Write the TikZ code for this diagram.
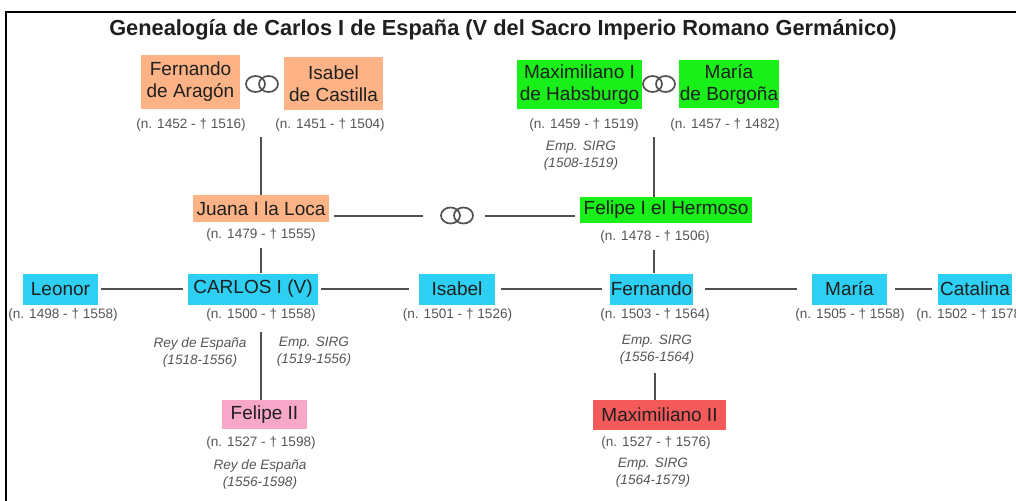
\documentclass[tikz,border=0pt]{standalone}
\usepackage{fontspec}
\setmainfont{Liberation Sans}
\definecolor{peachc}{HTML}{FDB386}
\definecolor{greenc}{HTML}{19F019}
\definecolor{bluec}{HTML}{2DCFF3}
\definecolor{pinkc}{HTML}{F7A8C8}
\definecolor{redc}{HTML}{F45A5A}
\definecolor{linec}{HTML}{505050}
\definecolor{datec}{HTML}{555555}
\tikzset{
  person/.style={rectangle, inner sep=0pt, text=black!88, font=\fontsize{19}{22}\selectfont, align=center},
  peach/.style={person, fill=peachc},
  green/.style={person, fill=greenc},
  blue/.style={person, fill=bluec},
  pink/.style={person, fill=pinkc},
  red/.style={person, fill=redc},
  dates/.style={text=datec, font=\fontsize{13.6}{16}\selectfont, inner sep=0pt},
  reign/.style={text=datec, font=\fontsize{13.6}{17}\selectfont\itshape, align=center, inner sep=0pt},
  link/.style={draw=linec, line width=2pt},
  ringbox/.style={inner sep=0pt, minimum width=33pt, minimum height=16pt},
  ringline/.style={draw=linec, line width=1.7pt},
}
\begin{document}
\begin{tikzpicture}[x=1pt, y=-1pt]
\useasboundingbox (0,0) rectangle (1016,500);
\clip (0,0) rectangle (1016,500);
\draw[line width=2.5pt] (6.2,12.2) rectangle (1100,600);

\node (title) at (503,30) {\fontsize{21.8}{24}\selectfont\bfseries\color{black!88}Genealogía de Carlos I de España (V del Sacro Imperio Romano Germánico)};

% Generation 1
\node[peach, minimum width=99pt, minimum height=54pt] (fA) at (190.5,82) {Fernando\\de Aragón};
\node[peach, minimum width=99pt, minimum height=53pt] (iC) at (333.5,83.5) {Isabel\\de Castilla};
\node[ringbox] (r1) at (262,84) {};
\node[dates] (fA-d) at (191,125) {(n. 1452 - † 1516)};
\node[dates] (iC-d) at (330,125) {(n. 1451 - † 1504)};

\node[green, minimum width=125pt, minimum height=49pt] (m1) at (579.5,84.5) {Maximiliano I\\de Habsburgo};
\node[green, minimum width=100pt, minimum height=48pt] (mB) at (729,84) {María\\de Borgoña};
\node[ringbox] (r2) at (659,84) {};
\node[dates] (m1-d) at (584,125) {(n. 1459 - † 1519)};
\node[dates] (mB-d) at (725,125) {(n. 1457 - † 1482)};
\node[reign] (m1-r) at (581,156) {Emp. SIRG\\(1508-1519)};

% Generation 2
\node[peach, minimum width=136pt, minimum height=27pt] (juana) at (261,208.5) {Juana I la Loca};
\node[dates] (juana-d) at (261,235) {(n. 1479 - † 1555)};
\node[ringbox] (r3) at (457,215.5) {};
\node[green, minimum width=172pt, minimum height=26pt] (felipe) at (666,210) {Felipe I el Hermoso};
\node[dates] (felipe-d) at (655,237) {(n. 1478 - † 1506)};

% Generation 3
\node[blue, minimum width=75pt, minimum height=31pt] (leonor) at (60.5,289) {Leonor};
\node[dates] (leonor-d) at (63,315) {(n. 1498 - † 1558)};
\node[blue, minimum width=130pt, minimum height=31pt] (carlos) at (253,289) {CARLOS I (V)};
\node[dates] (carlos-d) at (261,315) {(n. 1500 - † 1558)};
\node[blue, minimum width=76pt, minimum height=31pt] (isabel) at (457,289) {Isabel};
\node[dates] (isabel-d) at (457.5,315) {(n. 1501 - † 1526)};
\node[blue, minimum width=83pt, minimum height=31pt] (fernando) at (651.5,289) {Fernando};
\node[dates] (fernando-d) at (655,315) {(n. 1503 - † 1564)};
\node[blue, minimum width=75pt, minimum height=31pt] (maria) at (849.5,289) {María};
\node[dates] (maria-d) at (850,315) {(n. 1505 - † 1558)};
\node[blue, minimum width=74pt, minimum height=31pt] (catalina) at (975,289) {Catalina};
\node[dates] (catalina-d) at (971,315) {(n. 1502 - † 1578)};

\node[reign] (carlos-r1) at (200,352) {Rey de España\\(1518-1556)};
\node[reign] (carlos-r2) at (314,352) {Emp. SIRG\\(1519-1556)};
\node[reign] (fernando-r) at (657,350) {Emp. SIRG\\(1556-1564)};

% Generation 4
\node[pink, minimum width=85pt, minimum height=29pt] (felipe2) at (264.5,414.5) {Felipe II};
\node[dates] (felipe2-d) at (261,443) {(n. 1527 - † 1598)};
\node[reign] (felipe2-r) at (260,474.5) {Rey de España\\(1556-1598)};
\node[red, minimum width=133pt, minimum height=30pt] (max2) at (659.5,415) {Maximiliano II};
\node[dates] (max2-d) at (656,443) {(n. 1527 - † 1576)};
\node[reign] (max2-r) at (653,473) {Emp. SIRG\\(1564-1579)};

% Rings
\foreach \r in {r1,r2,r3}{
  \draw[ringline] ([xshift=-6.5pt]\r.center) ellipse (9.5pt and 8pt);
  \draw[ringline] ([xshift=6.5pt]\r.center) ellipse (9.5pt and 8pt);
}

% Connectors
\coordinate (c-fi) at (261,137);
\draw[link] (c-fi) -- (c-fi |- juana.north);
\coordinate (c-mm) at (654,137);
\draw[link] (c-mm) -- (c-mm |- felipe.north);
\draw[link, shorten <=5pt, shorten >=17.5pt] (juana.east |- r3.center) -- (r3.west);
\draw[link, shorten <=11.5pt, shorten >=5pt] (r3.east) -- (felipe.west |- r3.center);
\coordinate (c-jc) at (261,248);
\draw[link] (c-jc) -- (c-jc |- carlos.north);
\coordinate (c-ff) at (654,250);
\draw[link] (c-ff) -- (c-ff |- fernando.north);
\draw[link, shorten <=3pt, shorten >=5pt] (leonor) -- (carlos);
\draw[link, shorten <=3pt, shorten >=10pt] (carlos) -- (isabel);
\draw[link, shorten <=6pt, shorten >=8pt] (isabel) -- (fernando);
\draw[link, shorten <=12pt, shorten >=15pt] (fernando) -- (maria);
\draw[link, shorten <=8pt, shorten >=6pt] (maria) -- (catalina);
\coordinate (c-cf) at (261,332);
\draw[link] (c-cf) -- (c-cf |- felipe2.north);
\coordinate (c-fm) at (655,373);
\draw[link] (c-fm) -- (c-fm |- max2.north);
\end{tikzpicture}
\end{document}
